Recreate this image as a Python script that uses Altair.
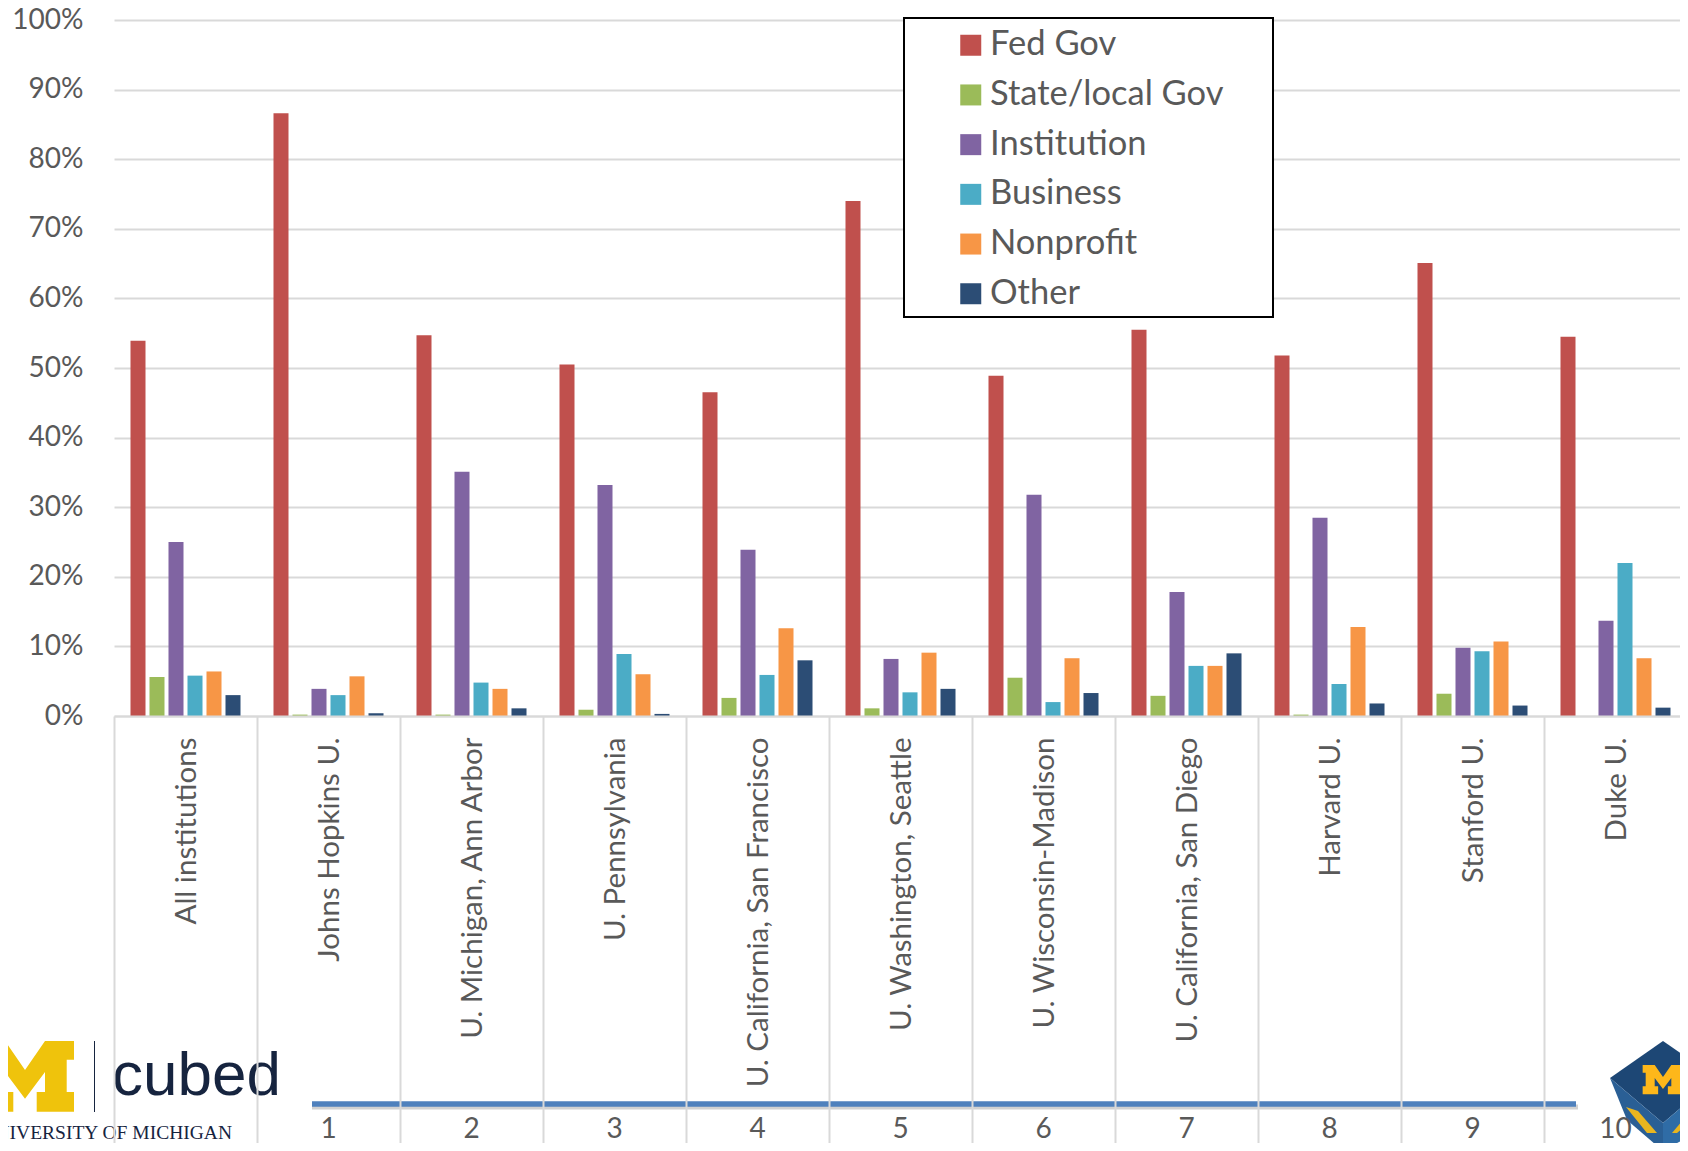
import altair as alt
import pandas as pd

categories = ["All institutions", "Johns Hopkins U.", "U. Michigan, Ann Arbor", "U. Pennsylvania",
              "U. California, San Francisco", "U. Washington, Seattle", "U. Wisconsin-Madison",
              "U. California, San Diego", "Harvard U.", "Stanford U.", "Duke U."]
ranks = ["", "1", "2", "3", "4", "5", "6", "7", "8", "9", "10"]
series_names = ["Fed Gov", "State/local Gov", "Institution", "Business", "Nonprofit", "Other"]
series_colors = ["#c0504d", "#9bbb59", "#8064a2", "#4bacc6", "#f79646", "#2c4d75"]
fed = [53.9, 86.6, 54.7, 50.5, 46.5, 74.0, 48.9, 55.5, 51.8, 65.1, 54.5]
state = [5.6, 0.2, 0.2, 0.9, 2.6, 1.1, 5.5, 2.9, 0.2, 3.2, 0.0]
institution = [25.0, 3.9, 35.1, 33.2, 23.9, 8.2, 31.8, 17.8, 28.5, 9.8, 13.7]
business = [5.8, 3.0, 4.8, 8.9, 5.9, 3.4, 2.0, 7.2, 4.6, 9.3, 22.0]
nonprofit = [6.4, 5.7, 3.9, 6.0, 12.6, 9.1, 8.3, 7.2, 12.8, 10.7, 8.3]
other = [3.0, 0.4, 1.1, 0.3, 8.0, 3.9, 3.3, 9.0, 1.8, 1.5, 1.2]
all_series = [fed, state, institution, business, nonprofit, other]

rows = [{"category": c, "series": s, "value": vals[i]}
        for s, vals in zip(series_names, all_series) for i, c in enumerate(categories)]
df = pd.DataFrame(rows)
cat_df = pd.DataFrame({"category": categories, "rank": ranks})
one = pd.DataFrame({"a": [0]})

FONT = "Lato"
GREY = "#595959"
GRID = "#d9d9d9"
NAVY = "#16243f"
LEFT, TOP = 114, 20  # page position of the plot area


def px(x):
    return alt.value(x - LEFT)


def py(y):
    return alt.value(y - TOP)


x_enc = alt.X("category:N", sort=categories, title=None,
              scale=alt.Scale(paddingInner=0, paddingOuter=0),
              axis=alt.Axis(labels=False, tickBand="extent", tickSize=427, tickColor=GRID, tickWidth=2,
                            domainColor=GRID, domainWidth=2, grid=False, zindex=1))
bars = alt.Chart(df).mark_bar(opacity=1).encode(
    x=x_enc,
    xOffset=alt.XOffset("series:N", sort=series_names,
                        scale=alt.Scale(paddingInner=0.21, paddingOuter=0.868)),
    y=alt.Y("value:Q", title=None, scale=alt.Scale(domain=[0, 100], nice=False),
            axis=alt.Axis(values=list(range(0, 101, 10)), labelExpr="datum.value + '%'", domain=False,
                          ticks=False, labelPadding=31, labelFont=FONT, labelFontSize=28,
                          labelColor=GREY, gridColor=GRID, gridWidth=2, grid=True)),
    color=alt.Color("series:N", sort=series_names,
                    scale=alt.Scale(domain=series_names, range=series_colors),
                    legend=alt.Legend(title=None, orient="none", legendX=839.5, legendY=8,
                                      symbolType="square", symbolSize=441, symbolStrokeWidth=0,
                                      symbolOpacity=1, labelFont=FONT, labelFontSize=34.5, labelColor=GREY,
                                      labelOffset=2, rowPadding=14.7, padding=0, labelLimit=400)),
)

cat_text = alt.Chart(cat_df).mark_text(font=FONT, fontSize=29.5, color=GREY, angle=270, align="right",
                                       baseline="middle", dy=1.5).encode(
    x=alt.X("category:N", sort=categories), y=py(737.5), text="category:N")
rank_text = alt.Chart(cat_df).mark_text(font=FONT, fontSize=28, color=GREY, align="center",
                                        baseline="middle").encode(
    x=alt.X("category:N", sort=categories), y=py(1130), text="rank:N")

legend_box = alt.Chart(one).mark_rect(fill="white", stroke="black", strokeWidth=2).encode(
    x=px(904), x2=px(1273), y=py(18), y2=py(317))

blue_shadow = alt.Chart(one).mark_rule(color="#000000", opacity=0.18, strokeWidth=5).encode(
    x=px(312), x2=px(1578), y=py(1107))
blue_line = alt.Chart(one).mark_rule(color="#4f81bd", strokeWidth=5.5).encode(
    x=px(312), x2=px(1576), y=py(1104))

M_PATH = ("M49 0L49 18.7L41.7 18.7L41.7 51L49 51L49 70.7L11.7 70.7L11.7 51L20 51L20 31L0 57.7L-20 31L-20 51"
          "L-11.7 51L-11.7 70.7L-49 70.7L-49 51L-41.7 51L-41.7 18.7L-49 18.7L-49 0L-20 0L0 29L20 0Z")
m_logo = alt.Chart(one).mark_point(shape=M_PATH, size=4, filled=True, color="#efc30c", opacity=1).encode(
    x=px(25), y=py(1041))
logo_bar = alt.Chart(one).mark_rule(color=NAVY, strokeWidth=1).encode(x=px(94.5), y=py(1041), y2=py(1112))
cubed = alt.Chart(one).mark_text(text="cubed", font="Liberation Sans", fontSize=62, color=NAVY,
                                 align="left", baseline="alphabetic").encode(x=px(112), y=py(1095))
um_text = alt.Chart(one).mark_text(text="UNIVERSITY OF MICHIGAN", font="Liberation Serif", fontSize=19.5,
                                   color=NAVY, align="right", baseline="alphabetic").encode(x=px(232), y=py(1139))

TOP_FACE = "M0 0L-53 37L0 82L53 37Z"
LEFT_FACE = "M-53 37L0 82L0 110L-36 79Z"
RIGHT_FACE = "M0 82L53 37L53 80L0 110Z"
STROKE_1 = "M-37 66L-25 70L-6 92L-16 92Z"
STROKE_2 = "M9 92L24 74L24 84L14 92Z"


def cube_part(path, color):
    return alt.Chart(one).mark_point(shape=path, size=4, filled=True, color=color, opacity=1).encode(
        x=px(1663), y=py(1041))


cube = [cube_part(TOP_FACE, "#1d4775"), cube_part(LEFT_FACE, "#2a5f95"), cube_part(RIGHT_FACE, "#2f6ca6"),
        cube_part(STROKE_1, "#e9b51f"), cube_part(STROKE_2, "#e9b51f")]
cube_m = alt.Chart(one).mark_point(shape=M_PATH, size=0.69, filled=True, color="#fdb71a", opacity=1).encode(
    x=px(1663), y=py(1065))

chart = alt.layer(
    blue_shadow, blue_line, m_logo, logo_bar, cubed, um_text, *cube, cube_m,
    legend_box, bars, cat_text, rank_text,
).properties(
    width=1573, height=696,
    padding={"left": 106, "top": 12, "right": -7, "bottom": 427},
    autosize=alt.AutoSizeParams(type="none"),
).configure_view(stroke=None)

chart.save("out.html", embed_options={"renderer": "svg", "actions": False})
